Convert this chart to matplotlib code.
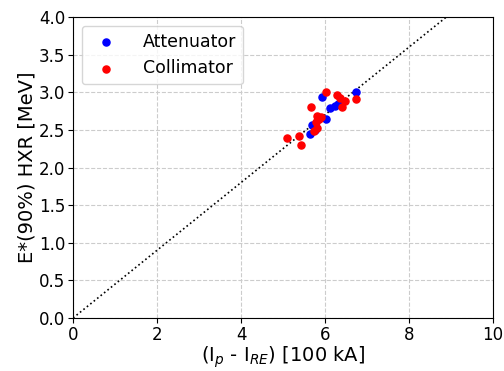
import matplotlib.pyplot as plt
import numpy as np

# attenuator shots: (I_p - I_RE) in 100 kA, E*(90%) in MeV
att_x = [5.92, 6.73, 6.13, 6.25, 6.37, 6.02, 5.70, 5.64, 5.76, 6.30]
att_y = [2.94, 3.01, 2.79, 2.82, 2.87, 2.64, 2.57, 2.45, 2.50, 2.85]

# collimator shots
col_x = [6.02, 5.66, 6.29, 6.47, 6.41, 6.73, 5.82, 5.90, 5.78, 5.82, 5.74,
         5.10, 5.38, 5.42, 5.86, 6.35]
col_y = [3.01, 2.81, 2.96, 2.88, 2.80, 2.91, 2.69, 2.67, 2.60, 2.53, 2.49,
         2.39, 2.42, 2.30, 2.65, 2.92]

slope = 0.45

fig = plt.figure(figsize=(5.04, 3.71), dpi=100)
ax = fig.add_axes([0.145, 0.143, 0.833, 0.811])

ax.scatter(att_x, att_y, color='blue', s=26, label='Attenuator', zorder=3)
ax.scatter(col_x, col_y, color='red', s=26, label='Collimator', zorder=3)

xx = np.array([0, 10])
ax.plot(xx, slope * xx, color='black', linestyle=':', linewidth=1.2, zorder=2)

ax.set_xlim(0, 10)
ax.set_ylim(0, 4)
ax.set_xticks([0, 2, 4, 6, 8, 10])
ax.set_yticks(np.arange(0, 4.01, 0.5))
ax.grid(True, linestyle='--', color='#cccccc', linewidth=0.8)
ax.tick_params(labelsize=12, pad=2)

ax.set_xlabel(r'(I$_p$ - I$_{RE}$) [100 kA]', fontsize=14, labelpad=1)
ax.set_ylabel('E*(90%) HXR [MeV]', fontsize=14, labelpad=2)
ax.legend(loc='upper left', fontsize=12.5, handletextpad=1.1,
          borderaxespad=0.5)

fig.savefig('out.png', dpi=100)
